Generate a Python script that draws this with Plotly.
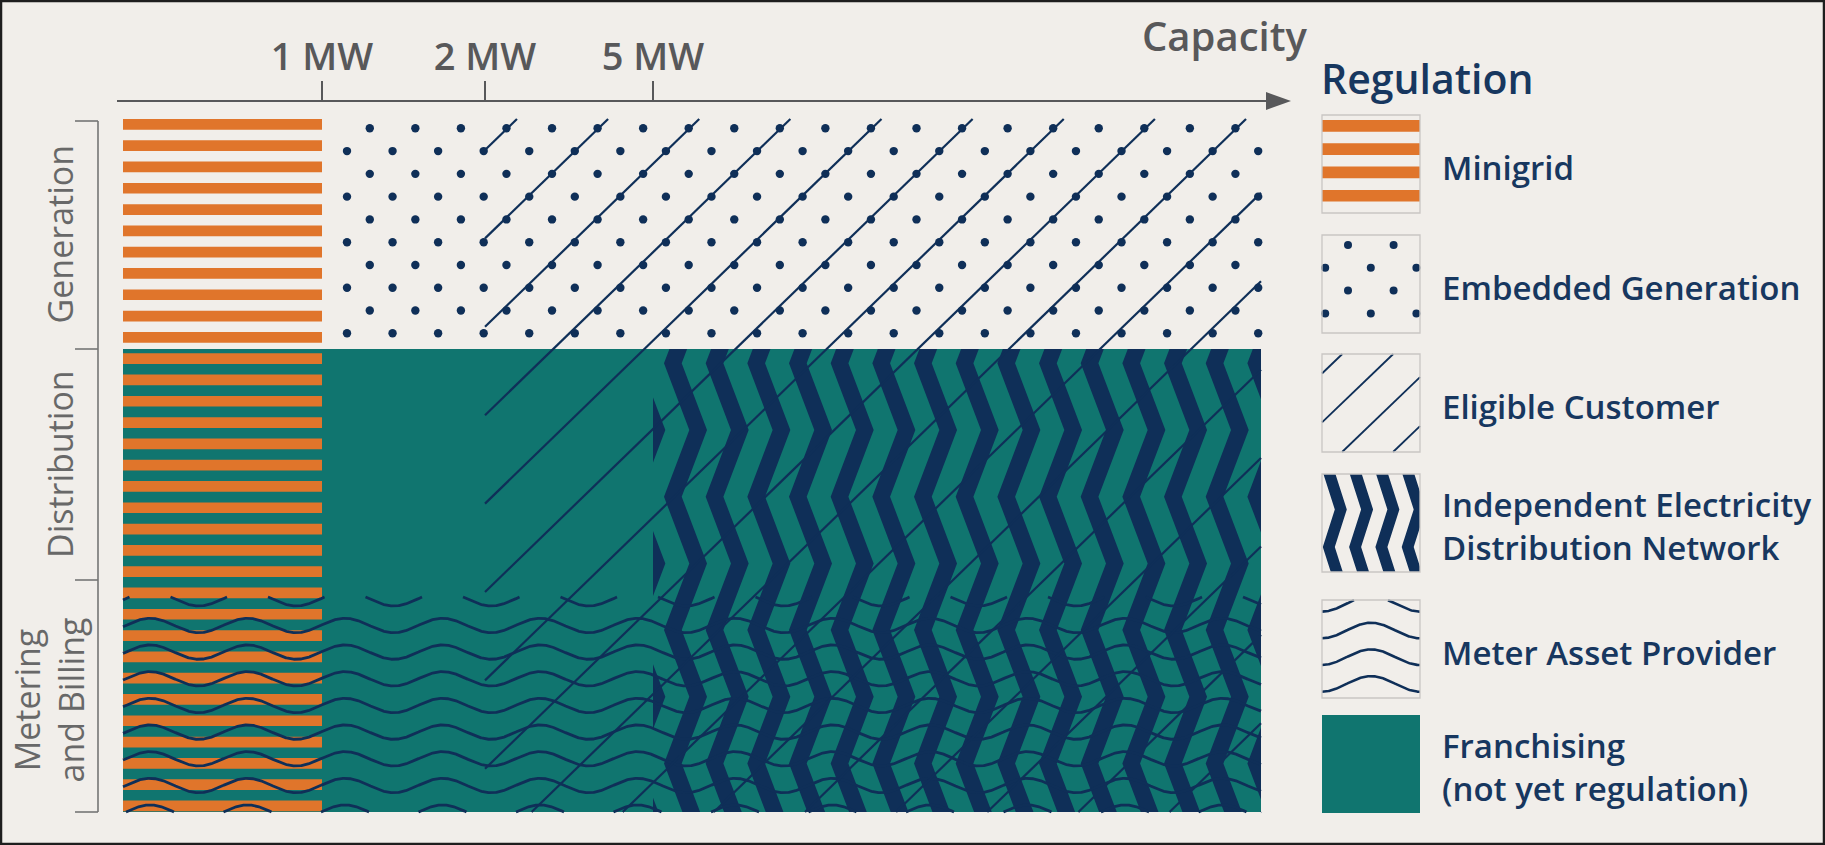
import math
import numpy as np
import plotly.graph_objects as go

# ------------------------------------------------------------------ data
ROWS = ["Generation", "Distribution", "Metering<br>and Billing"]
CAPACITY_TICKS = ["1 MW", "2 MW", "5 MW"]
AXIS_TITLE = "Capacity"
LEGEND_TITLE = "Regulation"
REGULATIONS = [
    "Minigrid",
    "Embedded Generation",
    "Eligible Customer",
    "Independent Electricity<br>Distribution Network",
    "Meter Asset Provider",
    "Franchising<br>(not yet regulation)",
]
# rows covered by each regulation and capacity band range [from, to)
# capacity bands: 0 = below 1 MW, 1 = 1-2 MW, 2 = 2-5 MW, 3 = above 5 MW
REG_ROWS = [[0, 1, 2], [0], [0, 1, 2], [1, 2], [2], [1, 2]]
REG_BAND_FROM = [0, 1, 2, 3, 0, 0]
REG_BAND_TO = [1, 4, 4, 4, 4, 4]

# ------------------------------------------------------------------ layout / style
W, H = 1825, 845
COL_EDGES = [123, 322, 485, 653, 1261]
ROW_EDGES = [119, 349, 580, 812]
AXIS_Y = 101
AXIS_X0, AXIS_X1 = 117, 1268
LEG_X0, LEG_SIZE = 1322, 98
LEG_TOPS = [115, 235, 354, 474, 600, 715]
LEG_TEXT_X = 1440

BG = "#F1EEEA"
NAVY = "#0F2F58"
ORANGE = "#E0752B"
TEAL = "#10756F"
GRAY = "#58585A"
GRAY2 = "#686868"
LEGTXT = "#17375F"
FONT = "Open Sans"

REG_PATTERN = ["stripes", "dots", "lines", "chevrons", "waves", "solid"]
REG_COLORS = [ORANGE, NAVY, NAVY, NAVY, NAVY, TEAL]
DRAW_ORDER = [5, 0, 1, 3, 4, 2]

MAIN_STYLE = {
    "stripes": dict(period=21.3, thick=10.7, oy=0.0),
    "dots": dict(step=22.78, size=8.4, ox=25.0, oy=9.3),
    "lines": dict(gap=88.4, slope=0.97, oy=31.0, width=2.2),
    "chevrons": dict(step=41.67, amp=25.3, half=66.7, thick=17.7, ox=11.0, oy=14.3),
    "waves": dict(period=97.5, amp=7.2, gap=26.67, ox=27.0, oy=11.6, pad=17.0, width=2.8),
}
LEGEND_STYLE = {
    "stripes": dict(period=23.3, thick=11.7, oy=5.0),
    "dots": dict(step=22.8, size=8.0, ox=3.2, oy=10.0),
    "lines": dict(gap=48.9, slope=0.96, oy=19.5, width=1.8),
    "chevrons": dict(step=26.3, amp=12.0, half=37.5, thick=12.0, ox=0.8, oy=-2.0),
    "waves": dict(period=98.0, amp=7.8, gap=26.7, ox=49.0, oy=-4.0, pad=0.0, width=2.6),
}


# ------------------------------------------------------------------ helpers
def clip_polygon(pts, x0, x1, y0, y1):
    def clip(pts, inside, inter):
        out = []
        for i in range(len(pts)):
            cur, prev = pts[i], pts[i - 1]
            cin, pin = inside(cur), inside(prev)
            if cin:
                if not pin:
                    out.append(inter(prev, cur))
                out.append(cur)
            elif pin:
                out.append(inter(prev, cur))
        return out

    def ix(xc):
        return lambda p, q: (xc, p[1] + (xc - p[0]) / (q[0] - p[0]) * (q[1] - p[1]))

    def iy(yc):
        return lambda p, q: (p[0] + (yc - p[1]) / (q[1] - p[1]) * (q[0] - p[0]), yc)

    pts = clip(pts, lambda p: p[0] >= x0, ix(x0))
    if pts:
        pts = clip(pts, lambda p: p[0] <= x1, ix(x1))
    if pts:
        pts = clip(pts, lambda p: p[1] >= y0, iy(y0))
    if pts:
        pts = clip(pts, lambda p: p[1] <= y1, iy(y1))
    return pts


def poly_trace(polys, color):
    xs, ys = [], []
    for p in polys:
        if len(p) < 3:
            continue
        xs += [q[0] for q in p] + [p[0][0], None]
        ys += [q[1] for q in p] + [p[0][1], None]
    return go.Scatter(x=xs, y=ys, mode="lines", fill="toself", fillcolor=color,
                      line=dict(width=0, color=color), hoverinfo="skip",
                      showlegend=False)


def pattern_traces(kind, rect, color, st):
    x0, x1, y0, y1 = rect
    if kind == "solid":
        return [poly_trace([[(x0, y0), (x1, y0), (x1, y1), (x0, y1)]], color)]
    if kind == "stripes":
        s = st["stripes"]
        polys = []
        j = 0
        while True:
            ya = y0 + s["oy"] + s["period"] * j
            if ya >= y1:
                break
            yb = min(ya + s["thick"], y1)
            polys.append([(x0, ya), (x1, ya), (x1, yb), (x0, yb)])
            j += 1
        return [poly_trace(polys, color)]
    if kind == "dots":
        s = st["dots"]
        xs, ys = [], []
        for j in range(60):
            yy = y0 + s["oy"] + s["step"] * j
            if yy > y1:
                break
            for k in range(200):
                xx = x0 + s["ox"] + s["step"] * k
                if xx > x1:
                    break
                if (k + j) % 2 == 1:
                    xs.append(xx)
                    ys.append(yy)
        return [go.Scatter(x=xs, y=ys, mode="markers",
                           marker=dict(size=s["size"], color=color, line=dict(width=0)),
                           hoverinfo="skip", showlegend=False)]
    if kind == "lines":
        s = st["lines"]
        xs, ys = [], []
        for n in range(-5, 60):
            yl = y0 + s["oy"] + s["gap"] * n
            xa = max(x0, x0 + (yl - y1) / s["slope"])
            xb = min(x1, x0 + (yl - y0) / s["slope"])
            if xb > xa:
                xs += [xa, xb, None]
                ys += [yl - s["slope"] * (xa - x0), yl - s["slope"] * (xb - x0), None]
        return [go.Scatter(x=xs, y=ys, mode="lines",
                           line=dict(width=s["width"], color=color),
                           hoverinfo="skip", showlegend=False)]
    if kind == "chevrons":
        s = st["chevrons"]
        polys = []
        for k in range(-3, 80):
            base = x0 + s["ox"] + s["step"] * k
            if base - s["thick"] - s["amp"] > x1:
                break
            left = []
            i = -2
            while True:
                yv = y0 + s["oy"] + s["half"] * i
                left.append((base + (s["amp"] if i % 2 else 0.0), yv))
                if yv > y1 + s["half"]:
                    break
                i += 1
            right = [(p[0] + s["thick"], p[1]) for p in reversed(left)]
            poly = clip_polygon(left + right, x0, x1, y0, y1)
            if len(poly) >= 3:
                polys.append(poly)
        return [poly_trace(polys, color)]
    if kind == "waves":
        s = st["waves"]
        ytop = y0 + s["pad"]
        xx = np.arange(x0, x1 + 0.01, 0.5)
        xs, ys = [], []
        for k in range(-2, 40):
            crest = y0 + s["oy"] + s["gap"] * k
            if crest > y1:
                break
            mid = crest + s["amp"]
            yy = mid - s["amp"] * np.cos(2 * math.pi * (xx - (x0 + s["ox"])) / s["period"])
            inside = (yy >= ytop) & (yy <= y1)
            prev = False
            for a, b, ok in zip(xx, yy, inside):
                if ok:
                    xs.append(float(a))
                    ys.append(float(b))
                elif prev:
                    xs.append(None)
                    ys.append(None)
                prev = ok
            xs.append(None)
            ys.append(None)
        return [go.Scatter(x=xs, y=ys, mode="lines",
                           line=dict(width=s["width"], color=color),
                           hoverinfo="skip", showlegend=False)]
    return []


def region(i):
    rows = REG_ROWS[i]
    return (COL_EDGES[REG_BAND_FROM[i]], COL_EDGES[REG_BAND_TO[i]],
            ROW_EDGES[min(rows)], ROW_EDGES[max(rows) + 1])


def legend_rect(i):
    return (LEG_X0, LEG_X0 + LEG_SIZE, LEG_TOPS[i], LEG_TOPS[i] + LEG_SIZE)


# ------------------------------------------------------------------ figure
fig = go.Figure()

for i in DRAW_ORDER:
    for tr in pattern_traces(REG_PATTERN[i], region(i), REG_COLORS[i], MAIN_STYLE):
        fig.add_trace(tr)

for i in range(len(REGULATIONS)):
    for tr in pattern_traces(REG_PATTERN[i], legend_rect(i), REG_COLORS[i], LEGEND_STYLE):
        fig.add_trace(tr)

# invisible trace so that the capacity axis is drawn
fig.add_trace(go.Scatter(x=COL_EDGES[1:4], y=[AXIS_Y] * 3, xaxis="x2", yaxis="y",
                         mode="markers", marker=dict(opacity=0), hoverinfo="skip",
                         showlegend=False))

shapes = []
# arrow head of capacity axis
shapes.append(dict(type="path", xref="x", yref="y",
                   path=f"M {AXIS_X1 - 2},{AXIS_Y - 9} L {AXIS_X1 + 23},{AXIS_Y} L {AXIS_X1 - 2},{AXIS_Y + 9} Z",
                   fillcolor=GRAY, line=dict(width=0)))
# row bracket
bx = 98
shapes.append(dict(type="line", xref="x", yref="y", x0=bx, x1=bx,
                   y0=ROW_EDGES[0] + 2, y1=ROW_EDGES[-1], line=dict(color="#757575", width=1.6)))
for ye in [ROW_EDGES[0] + 2] + ROW_EDGES[1:]:
    shapes.append(dict(type="line", xref="x", yref="y", x0=bx - 23, x1=bx,
                       y0=ye, y1=ye, line=dict(color="#757575", width=1.6)))
# legend swatch borders
for i in range(len(REGULATIONS) - 1):
    x0, x1, y0, y1 = legend_rect(i)
    shapes.append(dict(type="rect", xref="x", yref="y", x0=x0, x1=x1, y0=y0, y1=y1,
                       line=dict(color="#C9C6C3", width=1.3)))
# outer frame
shapes.append(dict(type="rect", xref="x", yref="y", x0=1, x1=W - 1, y0=1, y1=H - 1,
                   line=dict(color="#1E1E1E", width=2.5)))

ann = []
# row labels
for r, name in enumerate(ROWS):
    yc = (ROW_EDGES[r] + ROW_EDGES[r + 1]) / 2
    two = "<br>" in name
    ann.append(dict(x=48.5 if two else 59.5, y=yc + (4 if two else 0), xref="x", yref="y",
                    text=name, textangle=-90, showarrow=False,
                    xanchor="center", yanchor="middle",
                    font=dict(family=FONT, size=34, color=GRAY2)))
# axis title
ann.append(dict(x=1140, y=35, xref="x", yref="y", text=AXIS_TITLE, showarrow=False,
                xanchor="left", yanchor="middle",
                font=dict(family=FONT, size=40, color=GRAY, weight=600)))
# legend title
ann.append(dict(x=LEG_X0 - 3, y=78, xref="x", yref="y", text=LEGEND_TITLE, showarrow=False,
                xanchor="left", yanchor="middle",
                font=dict(family=FONT, size=41, color=LEGTXT, weight=600)))
# legend labels
for i, lab in enumerate(REGULATIONS):
    yc = LEG_TOPS[i] + LEG_SIZE / 2 + 3
    ann.append(dict(x=LEG_TEXT_X, y=yc, xref="x", yref="y", text=lab, showarrow=False,
                    xanchor="left", yanchor="middle", align="left",
                    font=dict(family=FONT, size=33, color=LEGTXT, weight=600)))

fig.update_layout(
    width=W, height=H,
    margin=dict(l=0, r=0, t=0, b=0),
    paper_bgcolor=BG, plot_bgcolor="rgba(0,0,0,0)",
    template="none",
    hovermode=False,
    showlegend=False,
    xaxis=dict(range=[0, W], domain=[0, 1], visible=False, fixedrange=True),
    yaxis=dict(range=[H, 0], domain=[0, 1], visible=False, fixedrange=True),
    xaxis2=dict(range=[AXIS_X0, AXIS_X1], domain=[AXIS_X0 / W, AXIS_X1 / W],
                anchor="free", position=1 - AXIS_Y / H, side="top",
                showline=True, linecolor=GRAY, linewidth=2,
                ticks="outside", ticklen=19, tickwidth=1.6, tickcolor=GRAY,
                ticklabelstandoff=-4,
                tickvals=COL_EDGES[1:4], ticktext=CAPACITY_TICKS,
                tickfont=dict(family=FONT, size=38, color=GRAY, weight=600),
                showgrid=False, zeroline=False, automargin=False, fixedrange=True),
    shapes=shapes,
    annotations=ann,
)

fig.write_html("out.html", config=dict(displayModeBar=False),
               post_script="document.body.style.margin='0px';document.body.style.overflow='hidden';")
